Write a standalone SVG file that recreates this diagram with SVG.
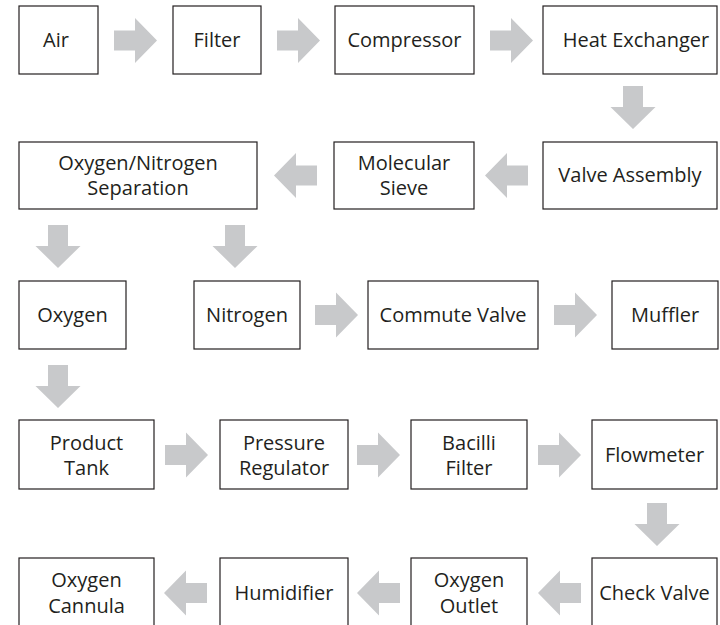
<svg xmlns="http://www.w3.org/2000/svg" xmlns:xlink="http://www.w3.org/1999/xlink" width="720" height="625" viewBox="0 0 720 625">
<style>
.box{fill:#ffffff;stroke:#231f20;stroke-width:1.2}
.t{font-family:"Open Sans","Noto Sans","Liberation Sans",sans-serif;font-size:20px;fill:#231f20;text-anchor:middle}
.arr{fill:#c8c9cb}
</style>
<defs>
<path id="ar" d="M0,-10 H21 V-22.5 L43,0 L21,22.5 V10 H0 Z"/>
</defs>
<rect width="720" height="625" fill="#ffffff"/>
<g id="connectors" class="arr">
<use xlink:href="#ar" transform="translate(114,40.5)"/>
<use xlink:href="#ar" transform="translate(277,40.5)"/>
<use xlink:href="#ar" transform="translate(490,40.5)"/>
<use xlink:href="#ar" transform="translate(633,86) rotate(90)"/>
<use xlink:href="#ar" transform="translate(528,175.5) rotate(180)"/>
<use xlink:href="#ar" transform="translate(317,175.5) rotate(180)"/>
<use xlink:href="#ar" transform="translate(58,225) rotate(90)"/>
<use xlink:href="#ar" transform="translate(235,225) rotate(90)"/>
<use xlink:href="#ar" transform="translate(315,315)"/>
<use xlink:href="#ar" transform="translate(554,315)"/>
<use xlink:href="#ar" transform="translate(58,365) rotate(90)"/>
<use xlink:href="#ar" transform="translate(165,455)"/>
<use xlink:href="#ar" transform="translate(357,455)"/>
<use xlink:href="#ar" transform="translate(538,455)"/>
<use xlink:href="#ar" transform="translate(657,503) rotate(90)"/>
<use xlink:href="#ar" transform="translate(581,593) rotate(180)"/>
<use xlink:href="#ar" transform="translate(400,593) rotate(180)"/>
<use xlink:href="#ar" transform="translate(207,593) rotate(180)"/>
</g>
<g id="air"><rect class="box" x="19" y="6" width="79" height="68"/><text class="t" x="56" y="47">Air</text></g>
<g id="filter"><rect class="box" x="173" y="6" width="88" height="68"/><text class="t" x="217" y="47">Filter</text></g>
<g id="compressor"><rect class="box" x="335" y="6" width="139" height="68"/><text class="t" x="404.5" y="47">Compressor</text></g>
<g id="heat-exchanger"><rect class="box" x="543" y="6" width="174" height="68"/><text class="t" x="636" y="47">Heat Exchanger</text></g>
<g id="valve-assembly"><rect class="box" x="543" y="142" width="174" height="67"/><text class="t" x="630" y="182">Valve Assembly</text></g>
<g id="molecular-sieve"><rect class="box" x="334" y="142" width="140" height="67"/><text class="t" x="404" y="170">Molecular</text><text class="t" x="404" y="195">Sieve</text></g>
<g id="separation"><rect class="box" x="19" y="142" width="238" height="67"/><text class="t" x="138" y="170">Oxygen/Nitrogen</text><text class="t" x="138" y="195">Separation</text></g>
<g id="oxygen"><rect class="box" x="19" y="281" width="107" height="68"/><text class="t" x="72.5" y="322">Oxygen</text></g>
<g id="nitrogen"><rect class="box" x="194" y="281" width="106" height="68"/><text class="t" x="247" y="322">Nitrogen</text></g>
<g id="commute-valve"><rect class="box" x="368" y="281" width="170" height="68"/><text class="t" x="453" y="322">Commute Valve</text></g>
<g id="muffler"><rect class="box" x="612" y="281" width="106" height="68"/><text class="t" x="665" y="322">Muffler</text></g>
<g id="product-tank"><rect class="box" x="19" y="420" width="135" height="69"/><text class="t" x="86.5" y="450">Product</text><text class="t" x="86.5" y="475">Tank</text></g>
<g id="pressure-regulator"><rect class="box" x="220" y="420" width="128" height="69"/><text class="t" x="284" y="450">Pressure</text><text class="t" x="284" y="475">Regulator</text></g>
<g id="bacilli-filter"><rect class="box" x="411" y="420" width="116" height="69"/><text class="t" x="469" y="450">Bacilli</text><text class="t" x="469" y="475">Filter</text></g>
<g id="flowmeter"><rect class="box" x="592" y="420" width="125" height="69"/><text class="t" x="654.5" y="462">Flowmeter</text></g>
<g id="check-valve"><rect class="box" x="592" y="558" width="125" height="70"/><text class="t" x="654.5" y="600">Check Valve</text></g>
<g id="oxygen-outlet"><rect class="box" x="411" y="558" width="116" height="70"/><text class="t" x="469" y="587">Oxygen</text><text class="t" x="469" y="613">Outlet</text></g>
<g id="humidifier"><rect class="box" x="220" y="558" width="128" height="70"/><text class="t" x="284" y="600">Humidifier</text></g>
<g id="oxygen-cannula"><rect class="box" x="19" y="558" width="135" height="70"/><text class="t" x="86.5" y="587">Oxygen</text><text class="t" x="86.5" y="613">Cannula</text></g>
</svg>
